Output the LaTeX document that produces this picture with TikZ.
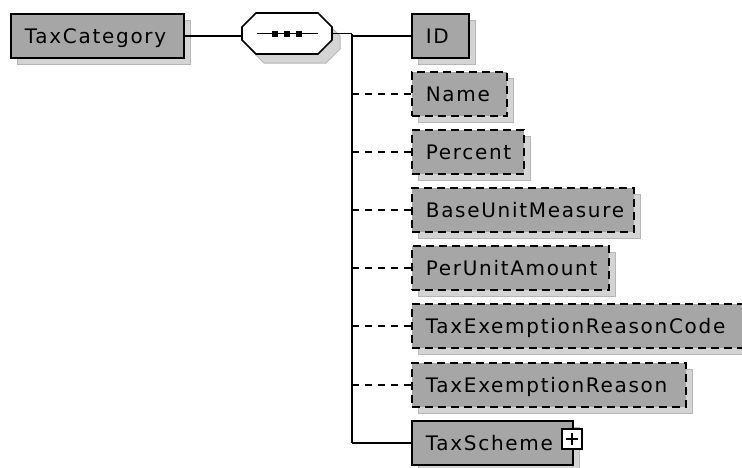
\documentclass[tikz,border=0pt]{standalone}
\usepackage{fontspec}
\newfontfamily\xsdfont{DejaVu Sans}[LetterSpace=8.5]
\usetikzlibrary{calc,shadows}
\definecolor{boxgray}{RGB}{166,166,166}
\definecolor{shadowgray}{RGB}{212,212,212}
\definecolor{shadowborder}{RGB}{182,182,182}
\begin{document}
\begin{tikzpicture}[x=1pt,y=-1pt,
  elem/.style={draw=black, line width=1.7pt, fill=boxgray, anchor=north west,
    minimum height=44pt, inner xsep=14pt, inner ysep=0pt, align=left,
    text height=14.6pt, text depth=0pt,
    font=\xsdfont\fontsize{20}{24}\selectfont,
    drop shadow={shadow xshift=7pt, shadow yshift=-7pt, fill=shadowgray,
      draw=shadowborder, line width=1pt, solid, opacity=1}},
  opt/.style={elem, dash pattern=on 8pt off 5pt},
  conn/.style={draw=black, line width=1.7pt},
  optconn/.style={conn, dash pattern=on 7pt off 6pt}]
\useasboundingbox (0,0) rectangle (742,467);

% elements
\node[elem, text width=145pt] (tc) at (10,13) {TaxCategory};
\node[elem, text width=29pt] (id) at (411,13) {ID};
\node[opt, text width=67pt] (name) at (411,71) {Name};
\node[opt, text width=84pt] (pct) at (411,129) {Percent};
\node[opt, text width=194pt] (bum) at (411,187) {BaseUnitMeasure};
\node[opt, text width=169pt] (pua) at (411,245) {PerUnitAmount};
\node[opt, text width=305pt] (terc) at (411,303) {TaxExemptionReasonCode};
\node[opt, text width=246pt] (ter) at (411,362) {TaxExemptionReason};
\node[elem, text width=133pt] (ts) at (411,420) {TaxScheme};

% sequence compositor
\node[minimum width=90pt, minimum height=41pt, inner sep=0pt] (seq) at (287,33.5) {};
\begin{scope}[shift={(seq.center)}]
  \filldraw[fill=shadowgray, draw=shadowborder, line width=1pt, shift={(8,9)}]
    (-31,-20.5) -- (31,-20.5) -- (45,-6.5) -- (45,6.5) -- (31,20.5) -- (-31,20.5) -- (-45,6.5) -- (-45,-6.5) -- cycle;
  \filldraw[fill=white, draw=black, line width=1.7pt]
    (-31,-20.5) -- (31,-20.5) -- (45,-6.5) -- (45,6.5) -- (31,20.5) -- (-31,20.5) -- (-45,6.5) -- (-45,-6.5) -- cycle;
  \draw[line width=1.5pt] (-30.5,0) -- (30.5,0);
  \fill[black] (-15,-3) rectangle (-9,3);
  \fill[black] (-3,-3) rectangle (3,3);
  \fill[black] (9,-3) rectangle (15,3);
\end{scope}

% connectors
\coordinate (bus) at (352,33.5);
\draw[conn] (tc.east) -- (tc.east -| seq.west);
\draw[conn] (seq.east) -- (bus);
\draw[conn] (bus) -- (bus |- ts.west);
\draw[conn] (bus |- id.west) -- (id.west);
\draw[optconn] (bus |- name.west) -- (name.west);
\draw[optconn] (bus |- pct.west) -- (pct.west);
\draw[optconn] (bus |- bum.west) -- (bum.west);
\draw[optconn] (bus |- pua.west) -- (pua.west);
\draw[optconn] (bus |- terc.west) -- (terc.west);
\draw[optconn] (bus |- ter.west) -- (ter.west);
\draw[conn] (bus |- ts.west) -- (ts.west);

% expand box
\node[draw=black, fill=white, line width=1.3pt, minimum width=20pt, minimum height=20pt, inner sep=0pt] (plus) at (572,439) {};
\draw[line width=1.3pt] ($(plus.center)+(-6,0)$) -- ($(plus.center)+(6,0)$);
\draw[line width=1.3pt] ($(plus.center)+(0,-6)$) -- ($(plus.center)+(0,6)$);
\end{tikzpicture}
\end{document}
